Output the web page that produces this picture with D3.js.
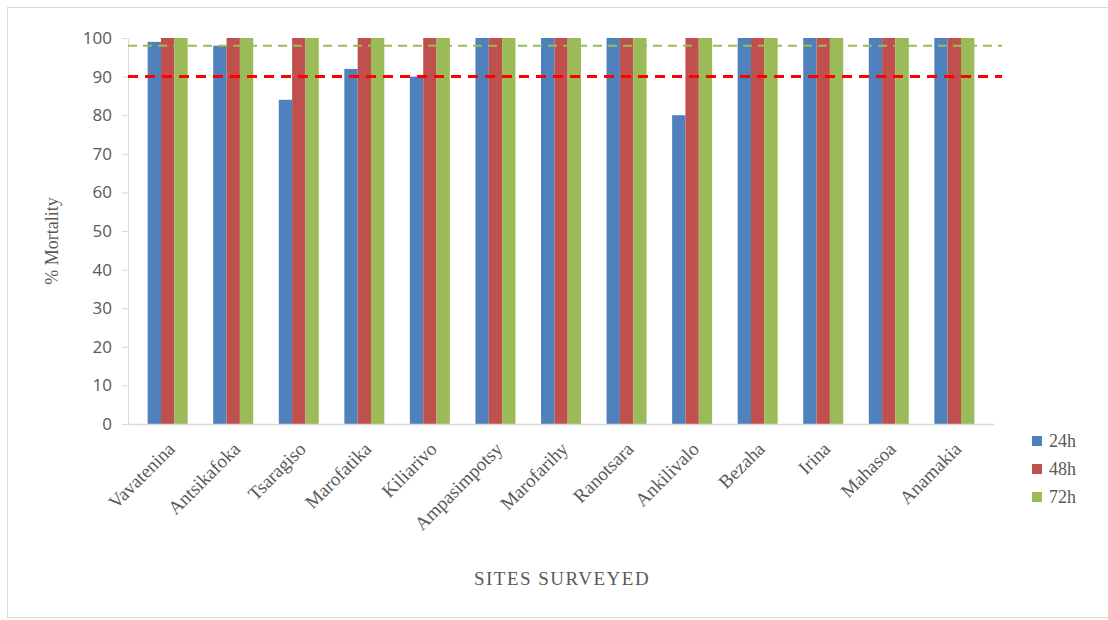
<!DOCTYPE html>
<html>
<head>
<meta charset="utf-8">
<script src="https://cdn.jsdelivr.net/npm/d3@7"></script>
<style>
    body { margin: 0; background: #fff; }
    .tick-label { font-family: "Open Sans", sans-serif; font-size: 17px; fill: #595959; }
    .serif { font-family: "Liberation Serif", serif; fill: #595959; }
</style>
</head>
<body>
<div id="chart"></div>
<script>
const sites = ['Vavatenina', 'Antsikafoka', 'Tsaragiso', 'Marofatika', 'Kiliarivo', 'Ampasimpotsy',
    'Marofarihy', 'Ranotsara', 'Ankilivalo', 'Bezaha', 'Irina', 'Mahasoa', 'Anamakia'];
const seriesNames = ['24h', '48h', '72h'];
const values24h = [99, 98, 84, 92, 90, 100, 100, 100, 80, 100, 100, 100, 100];
const values48h = [100, 100, 100, 100, 100, 100, 100, 100, 100, 100, 100, 100, 100];
const values72h = [100, 100, 100, 100, 100, 100, 100, 100, 100, 100, 100, 100, 100];
const yTicks = [0, 10, 20, 30, 40, 50, 60, 70, 80, 90, 100];
const refLines = [{ value: 98, color: '#9bbb59', width: 2, dash: '9,6' },
                  { value: 90, color: '#ff0000', width: 3, dash: '10,7' }];

const colors = ['#4f81bd', '#c0504d', '#9bbb59'];
const seriesValues = [values24h, values48h, values72h];

const width = 1108, height = 620;
const margin = { top: 38, right: 114, bottom: 196, left: 128 };
const innerW = width - margin.left - margin.right;
const innerH = height - margin.top - margin.bottom;

const svg = d3.select('#chart').append('svg')
    .attr('width', width)
    .attr('height', height);

// outer frame
svg.append('rect')
    .attr('x', 7.5).attr('y', 7.5)
    .attr('width', 1110).attr('height', 610)
    .attr('fill', 'none')
    .attr('stroke', '#d9d9d9');

const g = svg.append('g').attr('transform', `translate(${margin.left},${margin.top})`);

const x0 = d3.scaleBand().domain(sites).range([0, innerW]).paddingInner(0.39).paddingOuter(0.3);
const x1 = d3.scaleBand().domain(seriesNames).range([0, x0.bandwidth()]);
const y = d3.scaleLinear().domain([0, 100]).range([innerH, 0]);

// y axis
const yAxis = d3.axisLeft(y).tickValues(yTicks).tickSizeInner(6).tickSizeOuter(0).tickPadding(10);
const ya = g.append('g').call(yAxis);
ya.select('.domain').attr('stroke', '#d9d9d9');
ya.selectAll('.tick line').attr('stroke', '#d9d9d9');
ya.selectAll('.tick text').attr('class', 'tick-label');

// bars
const groups = g.selectAll('.site')
    .data(sites)
    .enter().append('g')
    .attr('transform', d => `translate(${x0(d)},0)`);

groups.selectAll('rect')
    .data((d, i) => seriesNames.map((s, k) => ({ s, v: seriesValues[k][i], c: colors[k] })))
    .enter().append('rect')
    .attr('x', d => x1(d.s))
    .attr('width', x1.bandwidth())
    .attr('y', d => y(d.v))
    .attr('height', d => innerH - y(d.v))
    .attr('fill', d => d.c);

// x axis
const xa = g.append('g').attr('transform', `translate(0,${innerH})`)
    .call(d3.axisBottom(x0).tickSize(0).tickPadding(12));
xa.select('.domain').attr('stroke', '#d9d9d9').attr('stroke-width', 1.5);
xa.selectAll('.tick text')
    .attr('class', 'serif')
    .style('font-size', '19px')
    .attr('text-anchor', 'end')
    .attr('dy', '0.35em')
    .attr('transform', 'translate(-5,13) rotate(-45)');

// reference lines
refLines.forEach(r => {
    g.append('line')
        .attr('x1', 0).attr('x2', innerW + 8)
        .attr('y1', y(r.value)).attr('y2', y(r.value))
        .attr('stroke', r.color)
        .attr('stroke-width', r.width)
        .attr('stroke-dasharray', r.dash);
});

// axis titles
svg.append('text')
    .attr('class', 'serif')
    .style('font-size', '18px')
    .attr('text-anchor', 'middle')
    .attr('transform', `translate(58,${margin.top + innerH / 2 + 10}) rotate(-90)`)
    .text('% Mortality');

svg.append('text')
    .attr('class', 'serif')
    .style('font-size', '19px')
    .style('letter-spacing', '1.5px')
    .attr('text-anchor', 'middle')
    .attr('x', 562).attr('y', 585)
    .text('SITES SURVEYED');

// legend
const legend = svg.append('g').attr('transform', 'translate(1032,441)');
seriesNames.forEach((s, i) => {
    const row = legend.append('g').attr('transform', `translate(0,${i * 28})`);
    row.append('rect')
        .attr('x', 0).attr('y', -5)
        .attr('width', 10).attr('height', 10)
        .attr('fill', colors[i]);
    row.append('text')
        .attr('class', 'serif')
        .style('font-size', '18px')
        .attr('x', 17).attr('y', 0).attr('dy', '0.35em')
        .text(s);
});
</script>
</body>
</html>
